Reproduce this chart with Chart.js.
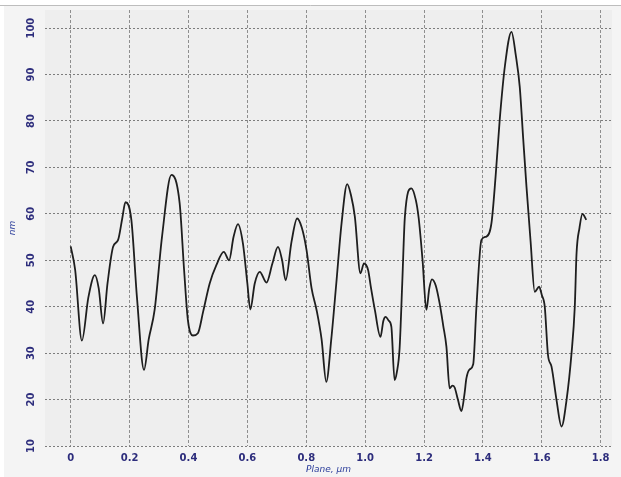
<!DOCTYPE html>
<html>
<head>
<meta charset="utf-8">
<title>Surface profile</title>
<script src="https://cdn.jsdelivr.net/npm/chart.js@4.4.1/dist/chart.umd.min.js"></script>
<style>
  html, body { margin: 0; padding: 0; background: #ffffff; }
  #wrap { position: relative; width: 621px; height: 477px; }
</style>
</head>
<body>
<div id="wrap"><canvas id="profileChart" width="621" height="477"></canvas></div>
<script>
// Profile along the plane (um) and height (nm)
const planeX = [
  0.000, 0.015, 0.038, 0.060, 0.082, 0.095, 0.110, 0.125, 0.144, 0.161,
  0.175, 0.186, 0.206, 0.225, 0.249, 0.265, 0.285, 0.310, 0.342, 0.370,
  0.385, 0.398, 0.415, 0.432, 0.450, 0.472, 0.495, 0.520, 0.538, 0.553,
  0.568, 0.585, 0.600, 0.610, 0.625, 0.642, 0.665, 0.685, 0.704, 0.718,
  0.730, 0.750, 0.769, 0.785, 0.801, 0.818, 0.835, 0.852, 0.868, 0.885,
  0.902, 0.920, 0.939, 0.952, 0.965, 0.984, 0.996, 1.010, 1.020, 1.033,
  1.052, 1.062, 1.070, 1.080, 1.089, 1.100, 1.108, 1.117, 1.126, 1.135,
  1.157, 1.172, 1.182, 1.195, 1.208, 1.218, 1.227, 1.240, 1.253, 1.265,
  1.276, 1.287, 1.296, 1.304, 1.315, 1.327, 1.337, 1.344, 1.355, 1.367,
  1.378, 1.395, 1.412, 1.429, 1.443, 1.457, 1.475, 1.497, 1.512, 1.525,
  1.537, 1.548, 1.562, 1.576, 1.591, 1.600, 1.610, 1.621, 1.633, 1.650,
  1.667, 1.684, 1.701, 1.712, 1.718, 1.728, 1.738, 1.751
];
const heightNm = [
  53.0, 48.0, 32.7, 42.0, 46.8, 44.0, 36.4, 45.0, 52.9, 54.4,
  59.0, 62.5, 58.7, 42.0, 26.4, 33.0, 39.3, 55.0, 68.4, 62.3,
  48.0, 37.1, 33.8, 34.3, 39.0, 45.0, 49.0, 51.8, 50.0, 55.0,
  57.8, 53.6, 45.0, 39.4, 45.0, 47.5, 45.2, 49.3, 52.9, 50.0,
  45.7, 54.0, 59.0, 57.0, 52.2, 44.0, 39.3, 33.0, 23.8, 33.0,
  45.0, 58.0, 66.4, 64.0, 59.4, 47.2, 49.3, 47.9, 44.0, 39.3,
  33.5, 37.0, 37.8, 37.0, 35.7, 24.2, 26.0, 31.0, 45.0, 59.4,
  65.5, 63.0, 59.0, 50.0, 39.3, 44.0, 45.9, 44.5, 40.7, 36.0,
  31.4, 22.4, 23.0, 22.6, 20.0, 17.5, 21.0, 24.6, 26.5, 27.6,
  40.0, 54.4, 55.1, 58.0, 68.0, 80.2, 92.0, 99.2, 94.0, 87.4,
  76.0, 65.8, 54.0, 43.2, 44.3, 42.5, 40.0, 29.6, 27.1, 19.9,
  14.2, 19.9, 30.0, 40.0, 51.5, 57.0, 60.0, 58.7
];

const xTicks = [0, 0.2, 0.4, 0.6, 0.8, 1.0, 1.2, 1.4, 1.6, 1.8];
const yTicks = [10, 20, 30, 40, 50, 60, 70, 80, 90, 100];

const tickColor = '#2d2d7c';
const titleColor = '#2a3c9a';

// Panel backgrounds: outer frame, top rule and the plotting area
const panelBackground = {
  id: 'panelBackground',
  beforeDraw(chart) {
    const { ctx, chartArea: a } = chart;
    ctx.save();
    ctx.fillStyle = '#ffffff';
    ctx.fillRect(0, 0, chart.width, chart.height);
    ctx.fillStyle = '#f4f4f4';
    ctx.fillRect(4, 5, chart.width - 4, chart.height - 5);
    ctx.strokeStyle = '#bdbdbd';
    ctx.lineWidth = 1;
    ctx.beginPath();
    ctx.moveTo(0, 5.5);
    ctx.lineTo(chart.width, 5.5);
    ctx.stroke();
    ctx.fillStyle = '#eeeeee';
    ctx.fillRect(a.left, a.top, a.right - a.left, a.bottom - a.top);
    ctx.restore();
  }
};

const ctx = document.getElementById('profileChart').getContext('2d');
const profileChart = new Chart(ctx, {
  type: 'line',
  data: {
    datasets: [{
      data: planeX.map((x, i) => ({ x: x, y: heightNm[i] })),
      borderColor: '#1e1e1e',
      borderWidth: 1.8,
      pointRadius: 0,
      fill: false,
      cubicInterpolationMode: 'monotone'
    }]
  },
  options: {
    responsive: false,
    animation: false,
    layout: { padding: { top: 10, right: 9, left: 0, bottom: 0 } },
    plugins: {
      legend: { display: false },
      tooltip: { enabled: false }
    },
    scales: {
      x: {
        type: 'linear',
        min: -0.0873,
        max: 1.8384,
        afterBuildTicks: scale => { scale.ticks = xTicks.map(v => ({ value: v })); },
        afterFit: scale => { scale.height = 31; },
        grid: { color: '#8e8e8e', lineWidth: 1, drawTicks: false },
        border: { display: false, dash: [3, 2] },
        ticks: {
          padding: 6,
          color: tickColor,
          font: { family: 'DejaVu Sans', size: 10, weight: 'bold' },
          callback: v => (v === 0 ? '0' : v.toFixed(1))
        },
        title: {
          display: true,
          text: 'Plane, μm',
          color: titleColor,
          padding: { top: 0, bottom: 2 },
          font: { family: 'DejaVu Sans', size: 9, style: 'italic' }
        }
      },
      y: {
        type: 'linear',
        min: 10,
        max: 103.9,
        afterBuildTicks: scale => { scale.ticks = yTicks.map(v => ({ value: v })); },
        afterFit: scale => { scale.width = 45; },
        grid: { color: '#7c7c7c', lineWidth: 1, drawTicks: false },
        border: { display: false, dash: [2, 2] },
        ticks: {
          padding: 3,
          minRotation: 90,
          maxRotation: 90,
          crossAlign: 'center',
          color: tickColor,
          font: { family: 'DejaVu Sans', size: 10, weight: 'bold' }
        },
        title: {
          display: true,
          text: 'nm',
          color: titleColor,
          padding: { top: 7, bottom: 0 },
          font: { family: 'DejaVu Sans', size: 9, style: 'italic' }
        }
      }
    }
  },
  plugins: [panelBackground]
});
</script>
</body>
</html>
